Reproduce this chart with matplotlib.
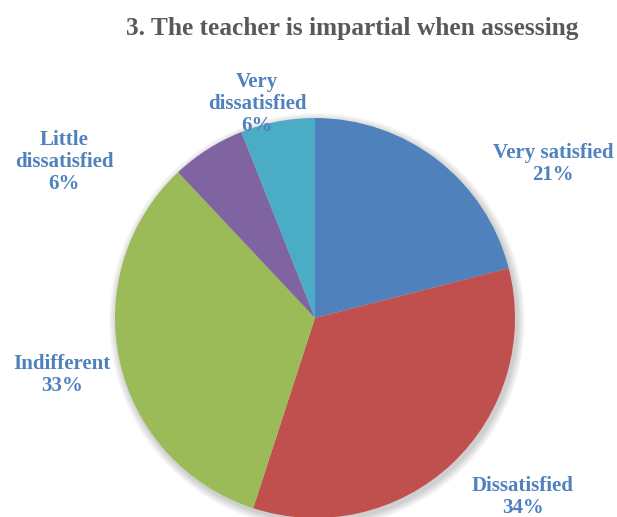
import matplotlib.pyplot as plt
from matplotlib.patches import Circle

labels = ['Very satisfied', 'Dissatisfied', 'Indifferent', 'Little\ndissatisfied', 'Very\ndissatisfied']
values = [21, 34, 33, 6, 6]
colors = ['#4F81BD', '#C0504D', '#9BBB59', '#8064A2', '#4BACC6']
# label centres in pixel coords (y from top)
label_pos = [(553, 164), (523, 497), (62, 375), (64, 162), (257, 104)]

W, H = 617, 517
fig = plt.figure(figsize=(W / 100, H / 100), dpi=100)
ax = fig.add_axes([0, 0, 1, 1])

cx, cy, r = 315, H - 318, 200

# soft shadow around the pie
for k in range(8, 0, -1):
    ax.add_patch(Circle((cx + 2, cy - 3), r + k, color='black', alpha=0.025, lw=0, zorder=0))

ax.pie(values, colors=colors, startangle=90, counterclock=False, center=(cx, cy),
       radius=r, frame=True, wedgeprops=dict(linewidth=0, zorder=1))
ax.set_xlim(0, W)
ax.set_ylim(0, H)
ax.set_aspect('equal')
ax.axis('off')

for lab, v, (x, y) in zip(labels, values, label_pos):
    ax.text(x, H - y, f'{lab}\n{v}%', ha='center', va='center', color='#4F81BD',
            fontsize=15, fontweight='bold', family='Liberation Serif', linespacing=1.15, zorder=3)

fig.text(352 / W, 1 - 28 / H, '3. The teacher is impartial when assessing', ha='center', va='center',
         color='#595959', fontsize=18.3, fontweight='bold', family='Liberation Serif')

fig.savefig('out.png', dpi=100)
